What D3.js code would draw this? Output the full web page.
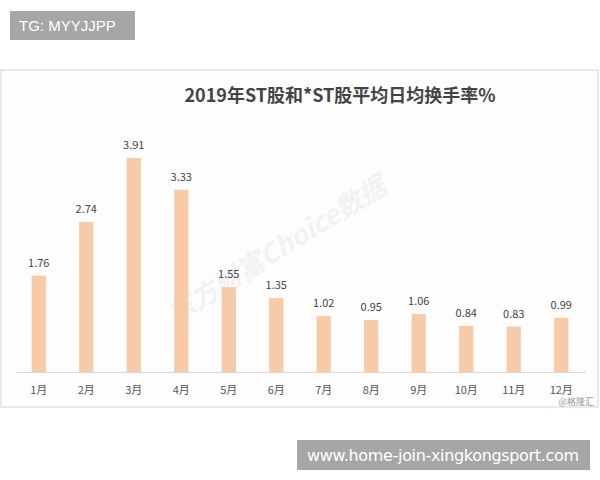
<!DOCTYPE html>
<html><head><meta charset="utf-8">
<script src="https://cdn.jsdelivr.net/npm/d3@7"></script>
<style>body{margin:0;background:#fff}</style>
</head><body>
<svg id="svg" width="600" height="480"></svg>
<script>
// Chart data
const months = ["1月","2月","3月","4月","5月","6月","7月","8月","9月","10月","11月","12月"];
const turnover = [1.76, 2.74, 3.91, 3.33, 1.55, 1.35, 1.02, 0.95, 1.06, 0.84, 0.83, 0.99];

const svg = d3.select("#svg");
const font = "'Noto Sans CJK SC', 'Noto Sans', sans-serif";

// Top tag
svg.append("rect").attr("x", 10).attr("y", 11).attr("width", 125).attr("height", 29).attr("fill", "#a6a6a6");
svg.append("text").attr("x", 19).attr("y", 31).attr("fill", "#fff")
    .style("font", "15px 'Liberation Sans', Arial, sans-serif").text("TG: MYYJJPP");

// Chart frame
svg.append("rect").attr("x", 1).attr("y", 70).attr("width", 597).attr("height", 337)
    .attr("fill", "#fdfdfd").attr("stroke", "#d4d4d4");

svg.append("text").attr("x", 340).attr("y", 102).attr("text-anchor", "middle")
    .attr("fill", "#444").style("font-family", font).style("font-size", "18px").style("font-weight", "bold")
    .text("2019年ST股和*ST股平均日均换手率%");

// Watermark
svg.append("text").attr("transform", "translate(282,258) rotate(-32)").attr("text-anchor", "middle")
    .attr("fill", "#000").attr("opacity", 0.04).style("font-family", font)
    .style("font-size", "27px").style("font-weight", "bold").style("font-style", "italic").text("东方财富Choice数据");

const x = d3.scaleBand().domain(months).range([15, 585]).paddingInner(0.7).paddingOuter(0.35);
const y = d3.scaleLinear().domain([0, 4]).range([372, 153]);

svg.append("line").attr("x1", 16).attr("x2", 586).attr("y1", 372.5).attr("y2", 372.5).attr("stroke", "#d9d9d9");

svg.selectAll(".bar").data(turnover).join("rect")
    .attr("x", (d, i) => x(months[i])).attr("width", x.bandwidth())
    .attr("y", d => y(d)).attr("height", d => y(0) - y(d)).attr("fill", "#f8cba8");

svg.selectAll(".val").data(turnover).join("text")
    .attr("x", (d, i) => x(months[i]) + x.bandwidth() / 2).attr("y", d => y(d) - 9)
    .attr("text-anchor", "middle").attr("fill", "#444").style("font-family", font).style("font-size", "11px")
    .text(d => d.toFixed(2));

svg.selectAll(".tick").data(months).join("text")
    .attr("x", d => x(d) + x.bandwidth() / 2).attr("y", 394).attr("text-anchor", "middle")
    .attr("fill", "#555").style("font-family", font).style("font-size", "11px").text(d => d);

svg.append("text").attr("x", 594).attr("y", 405).attr("text-anchor", "end").attr("fill", "#999")
    .style("font-family", font).style("font-size", "9px").text("@格隆汇");

// Bottom tag
svg.append("rect").attr("x", 297).attr("y", 440).attr("width", 293).attr("height", 30).attr("fill", "#a6a6a6");
svg.append("text").attr("x", 443).attr("y", 461).attr("text-anchor", "middle").attr("fill", "#fff")
    .style("font", "16px 'DejaVu Sans', sans-serif").attr("textLength", 272).text("www.home-join-xingkongsport.com");
</script>
</body></html>
